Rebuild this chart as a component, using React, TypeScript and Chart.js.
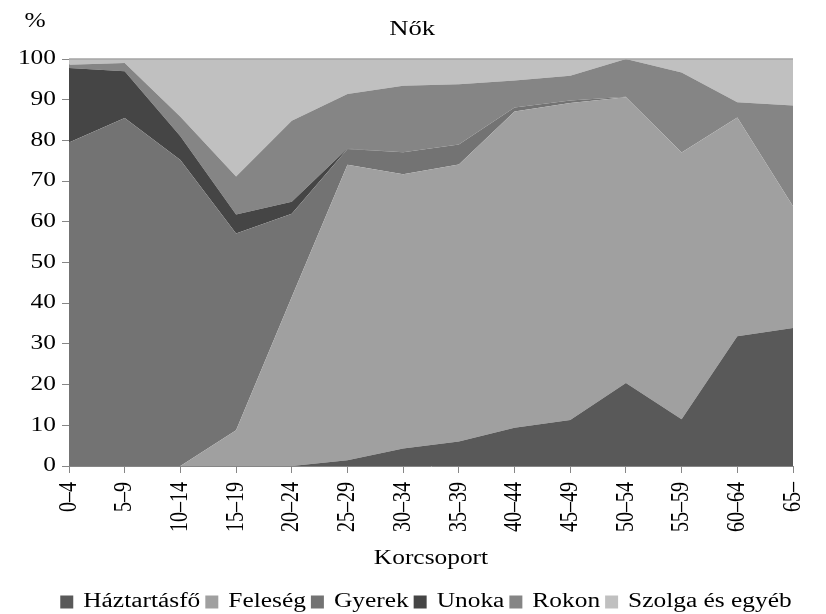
import React, { useEffect, useRef } from "react";
import { Chart, registerables } from "chart.js";

Chart.register(...registerables);

const categories = ["0–4", "5–9", "10–14", "15–19", "20–24", "25–29", "30–34", "35–39", "40–44", "45–49", "50–54", "55–59", "60–64", "65–"];
const haztartasfo = [0, 0, 0, 0, 0, 1.4, 4.3, 6.0, 9.4, 11.3, 20.4, 11.5, 31.9, 33.9];
const feleseg = [0, 0, 0, 8.8, 41.5, 72.6, 67.4, 68.1, 77.7, 77.9, 70.2, 65.5, 53.7, 29.9];
const gyerek = [79.5, 85.5, 75.2, 48.3, 20.5, 3.9, 5.4, 4.9, 1.0, 0.6, 0.1, 0, 0, 0];
const unoka = [18.3, 11.5, 5.8, 4.7, 2.9, 0.1, 0, 0, 0, 0, 0, 0, 0, 0];
const rokon = [0.8, 2.0, 4.8, 9.3, 19.9, 13.4, 16.3, 14.8, 6.6, 6.1, 9.3, 19.7, 3.8, 24.8];
const szolga = [1.4, 1.0, 14.2, 28.9, 15.2, 8.6, 6.6, 6.2, 5.3, 4.1, 0, 3.3, 10.6, 11.4];

const seriesNames = ["Háztartásfő", "Feleség", "Gyerek", "Unoka", "Rokon", "Szolga és egyéb"];
const seriesColors = ["#595959", "#a0a0a0", "#737373", "#454545", "#858585", "#c0c0c0"];
const yMin = 0;
const yMax = 100;
const yStep = 10;
const chartTitle = "Nők";
const yUnit = "%";
const xTitle = "Korcsoport";

const FONT = "'Liberation Serif', 'Times New Roman', serif";
// the reference's lettering is set wide: stretch glyphs horizontally (in device space)
const TEXT_STRETCH = 1.27;

function widenText(ctx: any) {
  if (ctx.__widened) return;
  ctx.__widened = true;
  const fill = ctx.fillText.bind(ctx);
  const measure = ctx.measureText.bind(ctx);
  ctx.fillText = (text: string, x: number, y: number) => {
    const m = ctx.getTransform();
    const dx = m.a * x + m.c * y + m.e;
    const dy = m.b * x + m.d * y + m.f;
    ctx.save();
    ctx.setTransform(1, 0, 0, 1, 0, 0);
    ctx.translate(dx, dy);
    ctx.scale(TEXT_STRETCH, 1);
    ctx.transform(m.a, m.b, m.c, m.d, 0, 0);
    fill(text, 0, 0);
    ctx.restore();
  };
  ctx.measureText = (text: string) => {
    const r = measure(text);
    return {
      width: r.width * TEXT_STRETCH,
      actualBoundingBoxAscent: r.actualBoundingBoxAscent,
      actualBoundingBoxDescent: r.actualBoundingBoxDescent,
      actualBoundingBoxLeft: r.actualBoundingBoxLeft * TEXT_STRETCH,
      actualBoundingBoxRight: r.actualBoundingBoxRight * TEXT_STRETCH,
      fontBoundingBoxAscent: r.fontBoundingBoxAscent,
      fontBoundingBoxDescent: r.fontBoundingBoxDescent,
    };
  };
}

const textPlugin = {
  id: "textPlugin",
  afterLayout(chart: any) {
    // centre the legend row under the plot like the reference
    if (chart.legend) chart.legend.left += 37;
  },
  afterDatasetsDraw(chart: any) {
    // thin top edge of the plot at 100 %
    const ctx = chart.ctx;
    const area = chart.chartArea;
    const yTop = chart.scales.y.getPixelForValue(yMax);
    ctx.save();
    ctx.strokeStyle = "#a4a4a4";
    ctx.lineWidth = 1.5;
    ctx.beginPath();
    ctx.moveTo(area.left, yTop);
    ctx.lineTo(area.right, yTop);
    ctx.stroke();
    ctx.restore();
  },
  afterDraw(chart: any) {
    const ctx = chart.ctx;
    const area = chart.chartArea;
    ctx.save();
    ctx.fillStyle = "#000";
    ctx.textAlign = "center";
    ctx.textBaseline = "middle";
    ctx.font = `21px ${FONT}`;
    ctx.fillText(chartTitle, area.left + (area.right - area.left) * 0.474, 29);
    ctx.font = `20px ${FONT}`;
    ctx.fillText(yUnit, 35, 22);
    ctx.restore();
  },
};

export default function App() {
  const ref = useRef<HTMLCanvasElement | null>(null);
  useEffect(() => {
    if (!ref.current) return;
    const ctx2d = ref.current.getContext("2d");
    widenText(ctx2d);
    const all = [haztartasfo, feleseg, gyerek, unoka, rokon, szolga];
    const chart = new Chart(ref.current, {
      type: "line",
      data: {
        labels: categories,
        datasets: all.map((d, i) => ({
          label: seriesNames[i],
          data: d,
          backgroundColor: seriesColors[i],
          borderColor: seriesColors[i],
          borderWidth: 0,
          pointRadius: 0,
          fill: i === 0 ? "origin" : "-1",
          tension: 0,
        })),
      },
      options: {
        animation: false,
        responsive: false,
        maintainAspectRatio: false,
        layout: { padding: { left: 0, right: 11, top: 59, bottom: -8 } },
        plugins: {
          title: { display: false },
          tooltip: { enabled: false },
          legend: {
            display: true,
            position: "bottom",
            labels: {
              color: "#000",
              font: { family: FONT, size: 20 },
              boxWidth: 13,
              boxHeight: 13,
              padding: 5,
            },
          },
        },
        scales: {
          x: {
            type: "category",
            offset: false,
            grid: {
              display: true,
              drawOnChartArea: false,
              drawTicks: true,
              tickLength: 7,
              color: "#868686",
            },
            border: { display: true, color: "#868686", width: 1 },
            ticks: {
              color: "#000",
              font: { family: FONT, size: 20 },
              maxRotation: 90,
              minRotation: 90,
              padding: 9,
              autoSkip: false,
            },
            title: {
              display: true,
              text: xTitle,
              color: "#000",
              font: { family: FONT, size: 20 },
              padding: { top: 0, bottom: 16 },
            },
            afterFit(scale: any) {
              scale.height = 121;
            },
          },
          y: {
            stacked: true,
            min: yMin,
            max: yMax,
            grid: {
              display: true,
              drawOnChartArea: false,
              drawTicks: true,
              tickLength: 7,
              color: "#868686",
            },
            border: { display: true, color: "#868686", width: 1 },
            ticks: {
              stepSize: yStep,
              color: "#000",
              font: { family: FONT, size: 20 },
              padding: 6,
            },
            afterFit(scale: any) {
              scale.width = 69;
            },
          },
        },
      },
      plugins: [textPlugin],
    });
    return () => chart.destroy();
  }, []);

  return (
    <div style={{ position: "fixed", left: 0, top: 0, width: 826, height: 614, background: "#fff" }}>
      <canvas ref={ref} width={826} height={614} style={{ width: 826, height: 614, display: "block" }} />
    </div>
  );
}
